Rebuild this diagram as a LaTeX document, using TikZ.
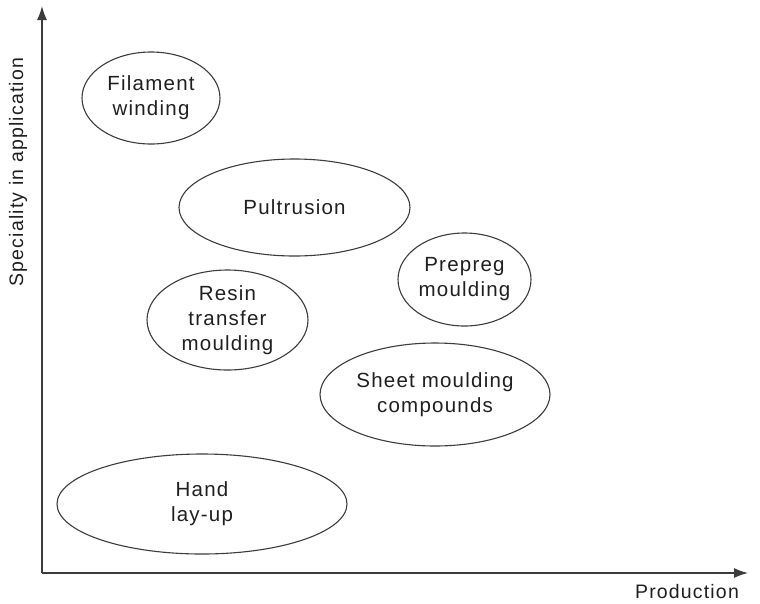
\documentclass[tikz,border=0pt]{standalone}
\usepackage{fontspec}
\setmainfont{Liberation Sans}[LetterSpace=6.0]
\usetikzlibrary{shapes.geometric,arrows.meta}

\definecolor{inkgray}{HTML}{1F1F1F}
\definecolor{linegray}{HTML}{3C3C3C}

\begin{document}
\begin{tikzpicture}[x=1pt,y=-1pt,
  method/.style={ellipse, draw=linegray, line width=1.1pt, inner sep=0pt,
    align=center, text=inkgray, font=\fontsize{20.5}{25}\selectfont},
  axis/.style={draw=linegray, line width=1.3pt, -{Latex[length=14pt,width=10pt]}},
  axislabel/.style={text=inkgray, font=\fontsize{19.5}{23}\selectfont}]

\useasboundingbox (0,0) rectangle (760,603);

\coordinate (O) at (42,573);
\coordinate (Y) at (42,6);
\coordinate (X) at (748,573);

\draw [axis] (O) -- (Y);
\draw [axis] (O) -- (X);

\node [axislabel, rotate=90] (YL) at (18,172) {Speciality in application};
\node [axislabel] (XL) at (687,592) {Production};

\node [method, minimum width=138, minimum height=92] (FW) at (151,98) {Filament\\winding};
\node [method, minimum width=231, minimum height=97] (PU) at (294.5,207.5) {Pultrusion};
\node [method, minimum width=133, minimum height=93] (PM) at (464.5,279.5) {Prepreg\\moulding};
\node [method, minimum width=161, minimum height=100] (RTM) at (227.5,320) {Resin\\transfer\\moulding};
\node [method, minimum width=230, minimum height=103] (SMC) at (435,394.5) {Sheet moulding\\compounds};
\node [method, minimum width=290, minimum height=100] (HL) at (202,504) {Hand\\lay-up};

\end{tikzpicture}
\end{document}
